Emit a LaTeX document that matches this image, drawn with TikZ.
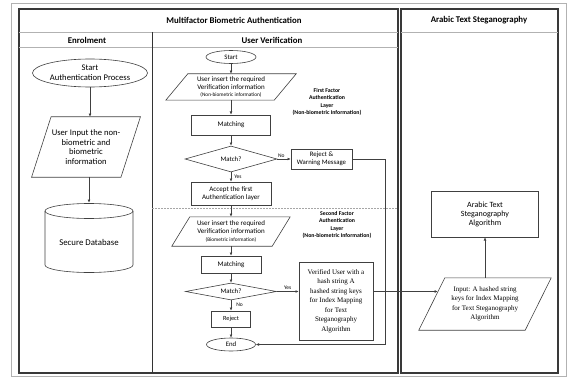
\documentclass[tikz,border=0pt]{standalone}
\usepackage{fontspec}
\setmainfont{Carlito}
\newfontfamily\serifx{Liberation Serif}
\usetikzlibrary{shapes.geometric,arrows.meta,calc}
\newcommand\fsz[2]{\fontsize{#1}{#2}\selectfont}
\newcommand\drawpara[2]{\draw[ln] ([xshift=#2]#1.north west) -- ([xshift=#2]#1.north east) -- ([xshift=-#2]#1.south east) -- ([xshift=-#2]#1.south west) -- cycle;}
\begin{document}
\begin{tikzpicture}[x=1pt,y=-1pt,
  ln/.style={draw=gray!50!black, line width=0.6pt},
  arr/.style={ln, -{Latex[length=3.2pt,width=2.8pt]}},
  box/.style={ln, rectangle, inner sep=0pt, align=center},
  ell/.style={ln, ellipse, inner sep=0pt, align=center},
  dia/.style={ln, diamond, aspect=6, inner sep=0pt, align=center},
  para/.style={rectangle, inner sep=0pt, align=center},
  lbl/.style={inner sep=0pt, font=\fsz{5.5}{6}},
  panel/.style={draw=gray!45!black, line width=1.3pt},
  band/.style={draw=gray!60, line width=0.8pt},
  head/.style={inner sep=0pt, font=\bfseries\fsz{8.8}{10}}
]
\useasboundingbox (0,0) rectangle (567,377);
% outer frame
\draw[draw=gray!60, line width=0.9pt] (11,3) rectangle (566,376);
% main panel
\draw[panel] (19,9) rectangle (398,373);
\draw[band] (19,32) -- (398,32);
\draw[band] (19,47) -- (398,47);
\draw[draw=gray!40!black, line width=0.7pt] (152,32) -- (152,373);
\node[head] (t1) at (234,20.5) {Multifactor Biometric Authentication};
\node[head] (t2) at (87,40) {Enrolment};
\node[head] (t3) at (272,40) {User Verification};
% right panel
\draw[panel] (401,9) rectangle (558,373);
\draw[band] (401,32) -- (558,32);
\node[head] (t4) at (479,20.5) {Arabic Text Steganography};
% dashed separator
\draw[draw=gray!70, line width=0.6pt, dash pattern=on 1.5pt off 1.5pt] (152,208) -- (397,208);

% Enrolment
\node[ell, minimum width=115, minimum height=28, font=\fsz{8.6}{10}] (st) at (90,73) {Start\\Authentication Process};
\node[para, minimum width=89, minimum height=60, font=\fsz{8.6}{9.4}] (up) at (86,147) {User Input the non-\\biometric and\\biometric\\information};
\drawpara{up}{9.75pt}
\node[inner sep=0pt, minimum width=88, minimum height=78, font=\fsz{8.8}{10}] (db) at (89,242) {Secure Database};
\draw[ln] (45,211) -- (45,265) arc[start angle=180, end angle=0, x radius=44, y radius=7.5] -- (133,211);
\draw[ln] (89,211) ellipse[x radius=44, y radius=7.5];
\draw[arr] (st.south) -- (st.south |- up.north);
\draw[arr] (db.north |- up.south) -- (db.north);

% User verification
\node[ell, minimum width=50, minimum height=13, font=\fsz{6.8}{7}] (s2) at (231,57) {Start};
\node[para, minimum width=108, minimum height=26, font=\fsz{7}{7.6}] (p1) at (231,87) {User insert the required\\Verification information\\{\fsz{5.3}{6.5}(Non-biometric information)}};
\drawpara{p1}{11pt}
\node[box, minimum width=79, minimum height=20, font=\fsz{7}{7}] (m1) at (231,125) {Matching};
\node[dia, minimum width=92, minimum height=26, font=\fsz{6.8}{7}] (d1) at (231,159) {Match?};
\node[box, minimum width=61, minimum height=20, font=\fsz{6.8}{7.8}] (r1) at (321.5,159) {Reject \&\\Warning Message};
\node[box, minimum width=80, minimum height=23, font=\fsz{7}{8.2}] (a1) at (231,193.5) {Accept the first\\Authentication layer};
\node[para, minimum width=100, minimum height=29, font=\fsz{7}{7.8}] (p2) at (231,231.5) {User insert the required\\Verification information\\{\fsz{5.3}{6.5}(Biometric information)}};
\drawpara{p2}{9pt}
\node[box, minimum width=60, minimum height=17, font=\fsz{7}{7}] (m2) at (231,264.5) {Matching};
\node[dia, minimum width=91, minimum height=17, font=\fsz{6.8}{7}] (d2) at (231,291.5) {Match?};
\node[box, minimum width=39, minimum height=16, font=\fsz{6.3}{7}] (rj) at (231,319) {Reject};
\node[ell, minimum width=49, minimum height=13, font=\fsz{6.8}{7}] (en) at (231,344.5) {End};
\node[box, minimum width=74, minimum height=78, font=\serifx\fsz{7}{9.5}] (v) at (336,301) {Verified User with a\\hash string A\\hashed string keys\\for Index Mapping\\for Text\\Steganography\\Algorithm};

\node[lbl, align=center, font=\bfseries\fsz{5.8}{7.2}] (f1) at (327,102) {First Factor\\Authentication\\Layer\\(Non-biometric Information)};
\node[lbl, align=center, font=\bfseries\fsz{5.8}{7.2}] (f2) at (337,225) {Second Factor\\Authentication\\Layer\\(Non-biometric Information)};

\draw[arr] (s2.south) -- (p1.north);
\draw[arr] (p1.south) -- (m1.north);
\draw[arr] (m1.south) -- (d1.north);
\draw[arr] (d1.east) -- node[lbl, above, yshift=1pt, pos=0.3] {No} (r1.west);
\draw[arr] (d1.south) -- node[lbl, right, xshift=3pt, pos=0.5] {Yes} (a1.north);
\draw[arr] (a1.south) -- (p2.north);
\draw[arr] (p2.south) -- (m2.north);
\draw[arr] (m2.south) -- (d2.north);
\draw[arr] (d2.east) -- node[lbl, above, yshift=2pt, pos=0.5] {Yes} (d2.east -| v.west);
\draw[arr] (d2.south) -- node[lbl, right, xshift=5pt, pos=0.4] {No} (rj.north);
\draw[arr] (rj.south) -- (en.north);
\draw[arr] (r1.east) -- ++(33,0) |- (en.east);

% Arabic text steganography
\node[box, minimum width=107, minimum height=46, font=\fsz{8}{9}] (alg) at (485,214) {Arabic Text\\Steganography\\Algorithm};
\node[para, minimum width=106, minimum height=52, font=\serifx\fsz{7}{9.5}] (pin) at (485,304) {Input: A hashed string\\keys for Index Mapping\\for Text Steganography\\Algorithm};
\drawpara{pin}{13pt}
\draw[arr] (v.east |- d2.east) -- ([xshift=6pt]pin.west |- d2.east);
\draw[arr] (pin.north) -- (alg.south);
\end{tikzpicture}
\end{document}
